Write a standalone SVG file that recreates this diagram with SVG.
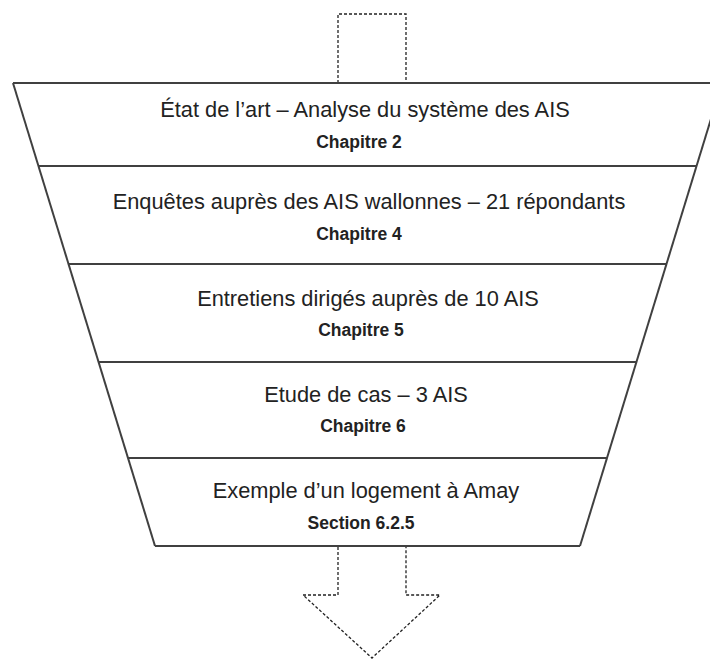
<svg xmlns="http://www.w3.org/2000/svg" width="710" height="659" viewBox="0 0 710 659">
<style>
.edge{fill:none;stroke:#404040;stroke-width:2}
.dash{fill:#fff;stroke:#222;stroke-width:1.3;stroke-dasharray:3,2}
.t{font-family:"Liberation Sans",Arial,sans-serif;font-size:21.8px;fill:#222;text-anchor:middle}
.b{font-weight:bold;font-size:17.5px}
</style>
<rect width="710" height="659" fill="#fff"/>
<g id="arrow-in"><polyline class="dash" points="338,83 338,14 406,14 406,83"/></g>
<g id="funnel">
<polygon points="13,83 722,83 580,546 155,546" fill="#fff" stroke="none"/>
<line class="edge" x1="13" y1="83" x2="710" y2="83"/>
<line class="edge" x1="13" y1="83" x2="155" y2="546"/>
<line class="edge" x1="722" y1="83" x2="580" y2="546"/>
<line class="edge" x1="155" y1="546" x2="580" y2="546"/>
</g>
<g id="band1"><text class="t" x="365" y="117">État de l’art – Analyse du système des AIS</text><text class="t b" x="359" y="148">Chapitre 2</text></g>
<g id="band2"><line class="edge" x1="38.5" y1="166" x2="696" y2="166"/><text class="t" x="369" y="209">Enquêtes auprès des AIS wallonnes – 21 répondants</text><text class="t b" x="359" y="240">Chapitre 4</text></g>
<g id="band3"><line class="edge" x1="68.5" y1="264" x2="666" y2="264"/><text class="t" x="368" y="306">Entretiens dirigés auprès de 10 AIS</text><text class="t b" x="361" y="336">Chapitre 5</text></g>
<g id="band4"><line class="edge" x1="98.5" y1="362" x2="636" y2="362"/><text class="t" x="366" y="402">Etude de cas – 3 AIS</text><text class="t b" x="363" y="432">Chapitre 6</text></g>
<g id="band5"><line class="edge" x1="128" y1="458" x2="607" y2="458"/><text class="t" x="366" y="498">Exemple d’un logement à Amay</text><text class="t b" x="361" y="529">Section 6.2.5</text></g>
<g id="arrow-out"><polyline class="dash" points="338,547 338,595 303,595 372,658 440,595 406,595 406,547"/></g>
</svg>
